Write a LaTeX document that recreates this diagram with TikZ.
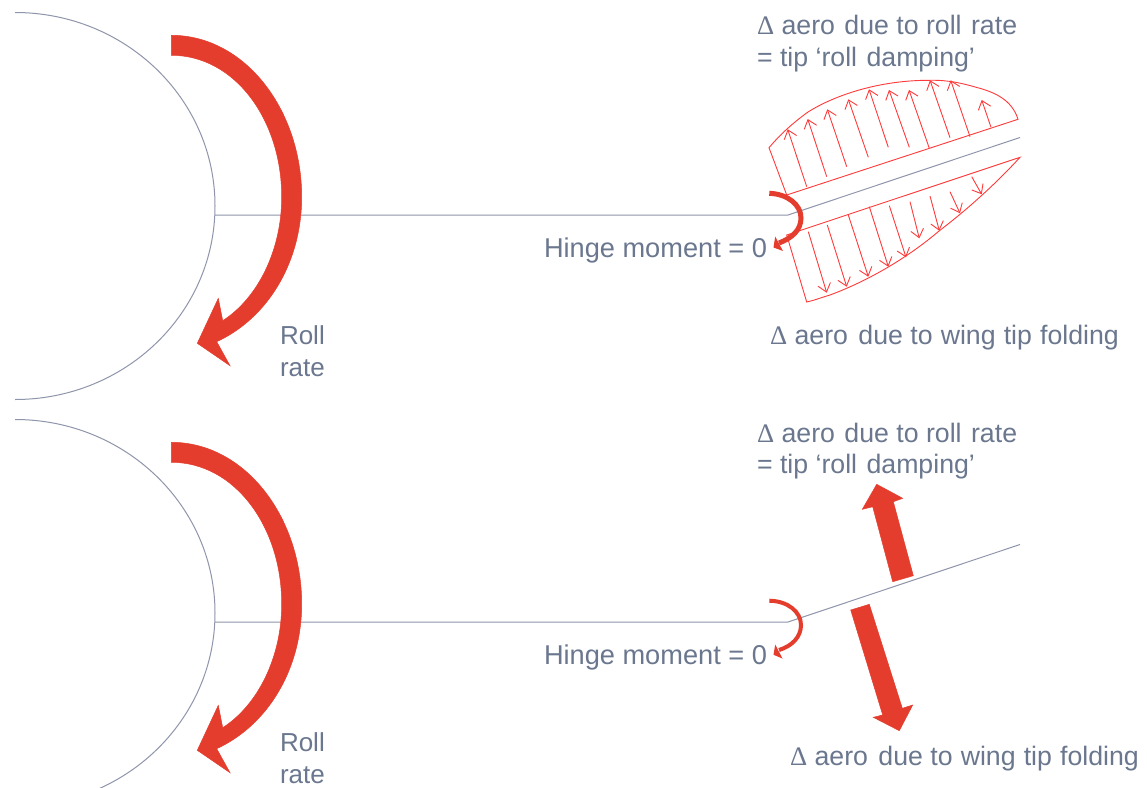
\documentclass[tikz,border=0pt]{standalone}
\usepackage{fontspec}
\setmainfont{Liberation Sans}
\newfontfamily\dfont{Liberation Serif}
\usetikzlibrary{arrows.meta}
\definecolor{txtc}{HTML}{6A778E}
\definecolor{linec}{HTML}{8F95AB}
\definecolor{redfill}{HTML}{E53D2D}
\definecolor{thinred}{HTML}{FF3A3A}
\tikzset{
  lbl/.style={anchor=base west,inner sep=0pt,outer sep=0pt,text=txtc,font=\fontsize{26}{31}\selectfont},
  lblw/.style={lbl,font=\fontsize{27.2}{31}\selectfont},
  lblm/.style={lbl,font=\fontsize{26.7}{31}\selectfont},
  struct/.style={draw=linec,line width=1pt},
  bigred/.style={fill=redfill,draw=redfill,line width=.5pt,line join=miter},
  thinline/.style={draw=thinred,line width=.9pt},
  thinarrow/.style={draw=thinred,line width=.9pt,-{Straight Barb[length=8pt,width=13pt,line width=.9pt]}},
}
\newcommand{\Dl}{{\dfont Δ}}
\begin{document}
\begin{tikzpicture}[x=1pt,y=-1pt]
\useasboundingbox (0,0) rectangle (1147,787);
\clip (0,0) rectangle (1147,787);
\fill[white] (0,0) rectangle (1147,787);

% ===== shared part of both panels =====
\foreach \dy/\nm in {0/a,407/b}{
 \begin{scope}[yshift=-\dy pt]
  \draw[struct] (15,12.5) .. controls (125.5,12.5) and (215,99) .. (215,206)
        .. controls (215,313) and (125.5,399.5) .. (15,399.5);
  \draw[struct] (215,215) -- (788,215) -- (1020,137.5);
  \fill[bigred] (171.3,35.3) .. controls (245,35.3) and (301.7,110) .. (301.7,197)
        .. controls (301.7,262) and (268,318) .. (216.7,341.7)
        -- (230,365.7) -- (197.3,343.3) -- (218.3,298.3) -- (222.7,320.7)
        .. controls (258,298) and (281.7,250) .. (281.7,197)
        .. controls (281.7,120) and (235,55.3) .. (171.3,55.3) -- cycle;
  \node[lbl] (roll\nm) at (280,344) {Roll};
  \node[lbl] (rate\nm) at (280,376.7) {rate};
  \node[lblw] (hinge\nm) at (544,257.5) {Hinge moment = 0};
 \end{scope}
}
\node[lblm] (aeroaa) at (757,34.6) {\Dl\ aero\kern2pt\ due to roll\kern2pt\ rate};
\node[lblm] (aeroba) at (757,66.3) {= tip ‘roll\kern2pt\ damping’};
\node[lblm] (aeroab) at (757,442) {\Dl\ aero\kern2pt\ due to roll\kern2pt\ rate};
\node[lblm] (aerobb) at (757,473.7) {= tip ‘roll\kern2pt\ damping’};

% ===== upper panel: distributed loads =====
\draw[thinline] (786.7,195) -- (1018,119.3)
   .. controls (1012,100) and (995,92) .. (975,87)
   .. controls (955,81) and (940,80) .. (930,80.3)
   .. controls (880,80) and (835,95) .. (808,112)
   .. controls (790,125) and (778,137) .. (769,147.7) -- cycle;
\draw[thinline] (786.7,235) -- (1020,157.3)
   .. controls (990,190) and (960,215) .. (939,231)
   .. controls (905,260) and (865,282) .. (830,295)
   .. controls (820,298) and (812,301) .. (806.7,302) -- cycle;
\foreach \xa/\ya/\xb/\yb in {
  806.7/186.7/787.7/129.3, 826.7/176.7/807.7/119, 846.7/166.7/827.3/109.3,
  868.3/157.3/848.3/99.3, 888.3/147.3/869/89.3, 909.3/147.3/889/90,
  929.3/148.3/909/90, 950/137.7/930/80.3, 970/136.7/950.7/80.3, 991/127.3/981.7/100}{
  \draw[thinarrow] (\xa,\ya) -- (\xb,\yb);
}
\foreach \xa/\ya/\xb/\yb in {
  808.3/231.7/826.7/292.7, 827.3/225/846.7/286.7, 848.3/215/868.3/276.7,
  869.3/206.7/888.3/266.7, 889.3/205.7/906/257.3, 910/201.7/919.3/238.3,
  930/196/939.3/230.7, 950/191.7/960/213.3, 971.7/176.7/981.7/194.3}{
  \draw[thinarrow] (\xa,\ya) -- (\xb,\yb);
}
\node[lblm] (foldupper) at (770,344) {\Dl\ aero\kern3pt\ due to\kern.7pt\ wing\kern.7pt\ tip\kern.7pt\ folding};

% hinge moment arrows
\draw[redfill,line width=5pt] (769.3,193.3) .. controls (788,194) and (801,205) .. (801,218)
     .. controls (801,230) and (792,238) .. (779,243);
\fill[redfill] (773.5,247.5) -- (775.2,236.5) -- (783,251) -- cycle;
\draw[redfill,line width=4pt] (769.3,600.7) .. controls (788,601) and (801,612) .. (801,625)
     .. controls (801,637) and (792,646) .. (779,650);
\fill[redfill] (773.5,654.8) -- (775.2,644.5) -- (782.5,658.5) -- cycle;

% ===== lower panel: resultant arrows =====
\fill[bigred] (892.7,581.7) -- (872.7,506.7) -- (862.3,509.3) -- (876.7,484.3)
   -- (902.7,498.3) -- (893.3,501.7) -- (913.3,575.7) -- cycle;
\fill[bigred] (850.7,610) -- (882.7,715) -- (873.3,717.3) -- (899.3,730.7)
   -- (912.7,705) -- (902.3,708.3) -- (869.3,604.3) -- cycle;
\node[lblm] (foldlower) at (790,765) {\Dl\ aero\kern3pt\ due to\kern.7pt\ wing\kern.7pt\ tip\kern.7pt\ folding};
\end{tikzpicture}
\end{document}
